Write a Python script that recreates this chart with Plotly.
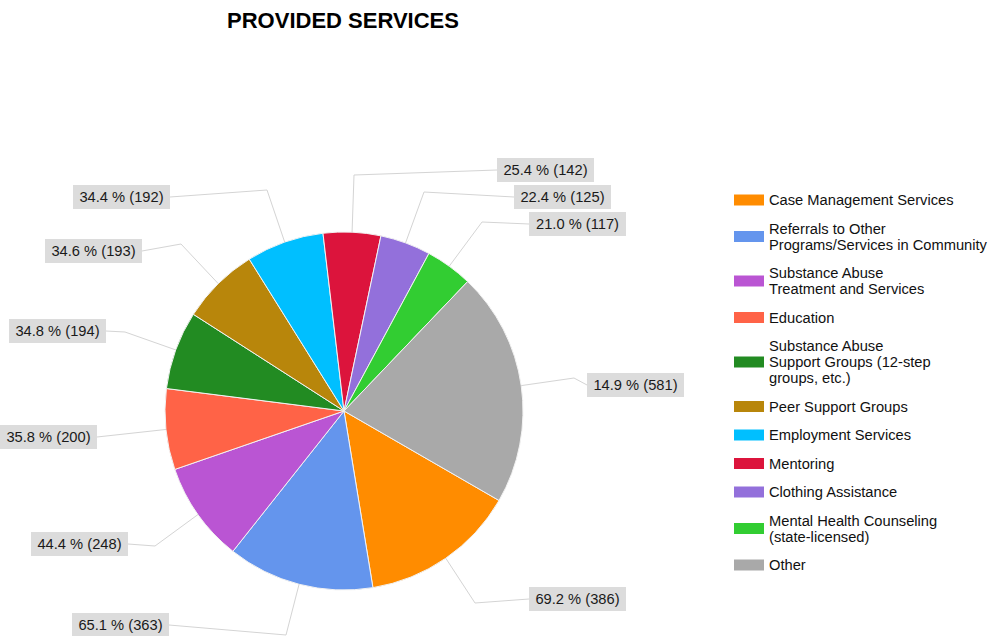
import math
import plotly.graph_objects as go

W, H = 993, 636

# ---------------- data ----------------
categories = [
    "Case Management Services",
    "Referrals to Other<br>Programs/Services in Community",
    "Substance Abuse<br>Treatment and Services",
    "Education",
    "Substance Abuse<br>Support Groups (12-step<br>groups, etc.)",
    "Peer Support Groups",
    "Employment Services",
    "Mentoring",
    "Clothing Assistance",
    "Mental Health Counseling<br>(state-licensed)",
    "Other",
]
counts = [386, 363, 248, 200, 194, 193, 192, 142, 125, 117, 581]
percents = [69.2, 65.1, 44.4, 35.8, 34.8, 34.6, 34.4, 25.4, 22.4, 21.0, 14.9]
colors = ["#FF8C00", "#6495ED", "#BA55D3", "#FF6347", "#228B22", "#B8860B",
          "#00BFFF", "#DC143C", "#9370DB", "#32CD32", "#A9A9A9"]

# ---------------- layout constants (pixels) ----------------
CX, CY, R = 344, 411, 179
ROTATION = 120
FONT = "Liberation Sans, Arial, sans-serif"
# (box edge x, box centre y, elbow x, elbow y, side of the box the line enters)
label_layout = [
    (529, 599, 475, 603, "left"),
    (169, 625, 286, 635, "right"),
    (128, 544, 155, 546, "right"),
    (97, 437, 97, 437, "right"),
    (106, 331, 125, 332, "right"),
    (142, 251, 181, 244, "right"),
    (170, 197, 267, 190, "right"),
    (497, 170, 354, 175, "left"),
    (514, 197, 424, 192, "left"),
    (529, 224, 482, 222, "left"),
    (587, 385, 574, 378, "left"),
]


def px(x):
    return x / W


def py(y):
    return 1 - y / H


names = [c.replace("<br>", " ") for c in categories]

fig = go.Figure()
fig.add_trace(go.Pie(
    labels=names,
    values=counts,
    sort=False,
    direction="clockwise",
    rotation=ROTATION,
    textinfo="none",
    marker=dict(colors=colors, line=dict(color="#f2f2f2", width=1)),
    domain=dict(x=[px(CX - R), px(CX + R)], y=[py(CY + R), py(CY - R)]),
    showlegend=False,
    hoverinfo="label+value",
))

shapes = []
annotations = []

# data labels with leader lines
total = sum(counts)
cum = 0
for v, p, (bx, by, ex, ey, side) in zip(counts, percents, label_layout):
    mid = math.radians(ROTATION + (cum + v / 2) / total * 360)
    cum += v
    ax = CX + R * math.sin(mid)
    ay = CY - R * math.cos(mid)
    shapes.append(dict(
        type="path", xref="paper", yref="paper",
        path=f"M{px(ax)},{py(ay)} L{px(ex)},{py(ey)} L{px(bx)},{py(by)}",
        line=dict(color="#d4d4d4", width=1),
    ))
    annotations.append(dict(
        xref="paper", yref="paper", x=px(bx), y=py(by),
        xanchor="left" if side == "left" else "right", yanchor="middle",
        text=f"{p:.1f} % ({v})", showarrow=False,
        bgcolor="#dcdcdc", borderwidth=0, borderpad=4, width=89, height=16,
        align="center", font=dict(family=FONT, size=14.7, color="#1a1a1a"),
    ))

# manual legend
LEG_X0, LEG_X1, LEG_TXT = 734, 764, 769
LINE_H = 16
y_top = 185.75
for cat, col in zip(categories, colors):
    lines = cat.split("<br>")
    h = 12.5 + LINE_H * len(lines)
    yc = y_top + h / 2
    y_top += h
    shapes.append(dict(
        type="rect", xref="paper", yref="paper",
        x0=px(LEG_X0), x1=px(LEG_X1), y0=py(yc - 5.5), y1=py(yc + 5.5),
        fillcolor=col, line=dict(width=0),
    ))
    for i, ln in enumerate(lines):
        ly = yc + (i - (len(lines) - 1) / 2) * LINE_H
        annotations.append(dict(
            xref="paper", yref="paper", x=px(LEG_TXT), y=py(ly),
            xanchor="left", yanchor="middle", text=ln, showarrow=False,
            borderpad=0, borderwidth=0,
            font=dict(family=FONT, size=14.7, color="#111111"),
        ))

fig.update_layout(
    width=W, height=H,
    margin=dict(l=0, r=0, t=0, b=0),
    paper_bgcolor="white", plot_bgcolor="white",
    title=dict(
        text="PROVIDED SERVICES", x=343 / W, xanchor="center",
        y=1 - 20 / H, yanchor="middle",
        font=dict(family=FONT, size=22, color="#000000", weight="bold"),
    ),
    shapes=shapes,
    annotations=annotations,
)

fig.write_html(
    "out.html",
    config={"displayModeBar": False},
    post_script="document.body.style.margin='0';document.body.style.overflow='hidden';",
)
